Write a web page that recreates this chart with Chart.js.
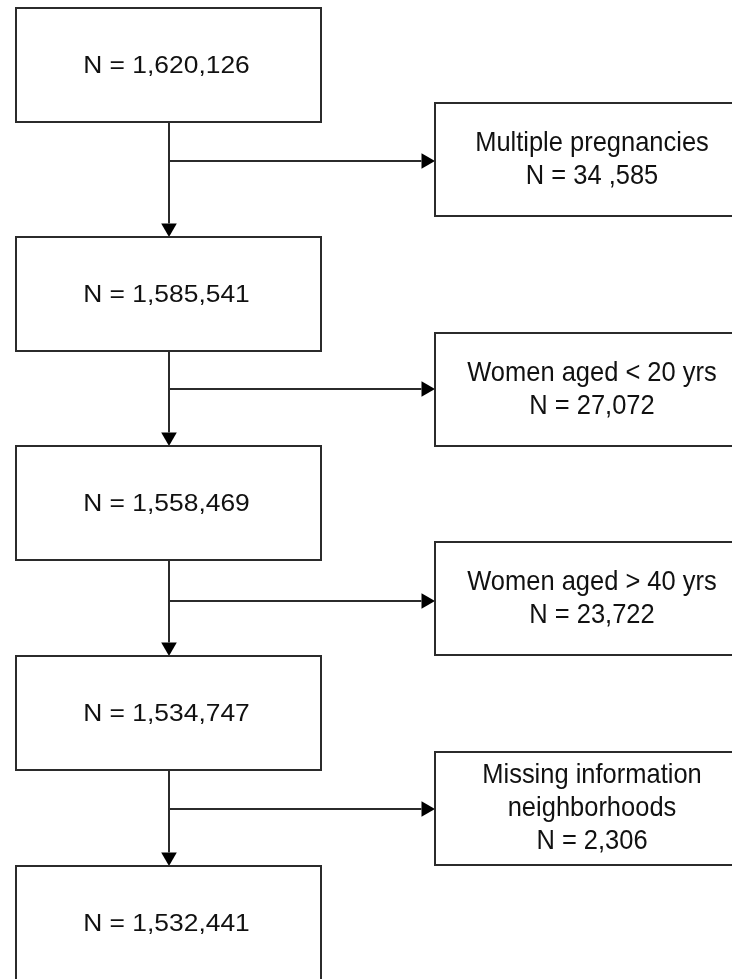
<!DOCTYPE html>
<html>
<head>
<meta charset="utf-8">
<script src="https://cdn.jsdelivr.net/npm/chart.js@4.4.1/dist/chart.umd.min.js"></script>
<style>
  html, body { margin: 0; padding: 0; background: #fff; }
  #wrap { width: 732px; height: 979px; }
</style>
</head>
<body>
<div id="wrap"><canvas id="flow" width="732" height="979"></canvas></div>
<script>
// ─── Data ──────────────────────────────────────────────────────────────────
const MAIN_COUNTS = ['1,620,126', '1,585,541', '1,558,469', '1,534,747', '1,532,441'];
const EXCL_LABELS = [
  ['Multiple pregnancies'],
  ['Women aged < 20 yrs'],
  ['Women aged > 40 yrs'],
  ['Missing information', 'neighborhoods'],
];
const EXCL_COUNTS = ['34 ,585', '27,072', '23,722', '2,306'];

// ─── Layout (chart units = pixels) ─────────────────────────────────────────
const MAIN_X = [16, 321];
const MAIN_TOP = [8, 237, 446, 656, 866];
const MAIN_H = 114;
const SIDE_X = [435, 749];
const SIDE_TOP = [103, 333, 542, 752];
const SIDE_H = 113;
const BRANCH_Y = [161, 389, 601, 809];
const STEM_X = 169;
const HEAD = 9;          // arrowhead radius
const LINE = '#2b2b2b';

function rect(x0, x1, y0, y1) {
  return [{ x: x0, y: y0 }, { x: x1, y: y0 }, { x: x1, y: y1 }, { x: x0, y: y1 }, { x: x0, y: y0 }];
}
function seg(data) {
  return { data, showLine: true, borderColor: LINE, borderWidth: 2, pointRadius: 0,
    borderCapStyle: 'square', borderJoinStyle: 'miter', tension: 0, fill: false, clip: false };
}

const datasets = [];
MAIN_TOP.forEach(t => datasets.push(seg(rect(MAIN_X[0], MAIN_X[1], t, t + MAIN_H))));
SIDE_TOP.forEach(t => datasets.push(seg(rect(SIDE_X[0], SIDE_X[1], t, t + SIDE_H))));

const heads = [], rots = [];
BRANCH_Y.forEach((by, i) => {
  const next = MAIN_TOP[i + 1];
  // stem down to next box
  datasets.push({ ...seg([{ x: STEM_X, y: MAIN_TOP[i] + MAIN_H }, { x: STEM_X, y: next - HEAD * 1.5 }]), borderCapStyle: 'butt' });
  // branch to exclusion box
  datasets.push({ ...seg([{ x: STEM_X, y: by }, { x: SIDE_X[0] - HEAD * 1.5, y: by }]), borderCapStyle: 'butt' });
  heads.push({ x: STEM_X, y: next - HEAD }); rots.push(180);
  heads.push({ x: SIDE_X[0] - HEAD, y: by }); rots.push(90);
});
datasets.push({
  data: heads, showLine: false, pointStyle: 'triangle', pointRadius: HEAD, pointHoverRadius: HEAD,
  pointRotation: rots, backgroundColor: '#000', borderColor: '#000', borderWidth: 0, clip: false,
});

// ─── Text plugin ───────────────────────────────────────────────────────────
function drawText(ctx, str, px, py, font, sx) {
  ctx.save();
  ctx.translate(px, py);
  ctx.scale(sx, 1);
  ctx.font = font;
  ctx.fillText(str, 0, 0);
  ctx.restore();
}

const boxText = {
  id: 'boxText',
  afterDatasetsDraw(chart) {
    const { ctx, scales: { x, y } } = chart;
    ctx.save();
    ctx.fillStyle = '#111';
    ctx.textAlign = 'center';
    ctx.textBaseline = 'middle';
    const mx = x.getPixelForValue((MAIN_X[0] + MAIN_X[1]) / 2 - 2);
    MAIN_COUNTS.forEach((n, i) => {
      drawText(ctx, `N = ${n}`, mx, y.getPixelForValue(MAIN_TOP[i] + MAIN_H / 2 + 1), '24px "Liberation Sans"', 1.1);
    });
    const sxp = x.getPixelForValue((SIDE_X[0] + SIDE_X[1]) / 2);
    EXCL_LABELS.forEach((lbl, i) => {
      const lines = [...lbl, `N = ${EXCL_COUNTS[i]}`];
      const mid = SIDE_TOP[i] + SIDE_H / 2;
      lines.forEach((ln, k) => {
        const yy = mid + (k - (lines.length - 1) / 2) * 33;
        drawText(ctx, ln, sxp, y.getPixelForValue(yy), '28px "Liberation Sans"', 0.91);
      });
    });
    ctx.restore();
  }
};

new Chart(document.getElementById('flow'), {
  type: 'scatter',
  data: { datasets },
  options: {
    responsive: false, animation: false, events: [],
    layout: { padding: 0, autoPadding: false },
    plugins: { legend: { display: false }, tooltip: { enabled: false } },
    scales: {
      x: { type: 'linear', min: 0, max: 732, display: false },
      y: { type: 'linear', min: 0, max: 979, reverse: true, display: false },
    },
  },
  plugins: [boxText],
});
</script>
</body>
</html>
